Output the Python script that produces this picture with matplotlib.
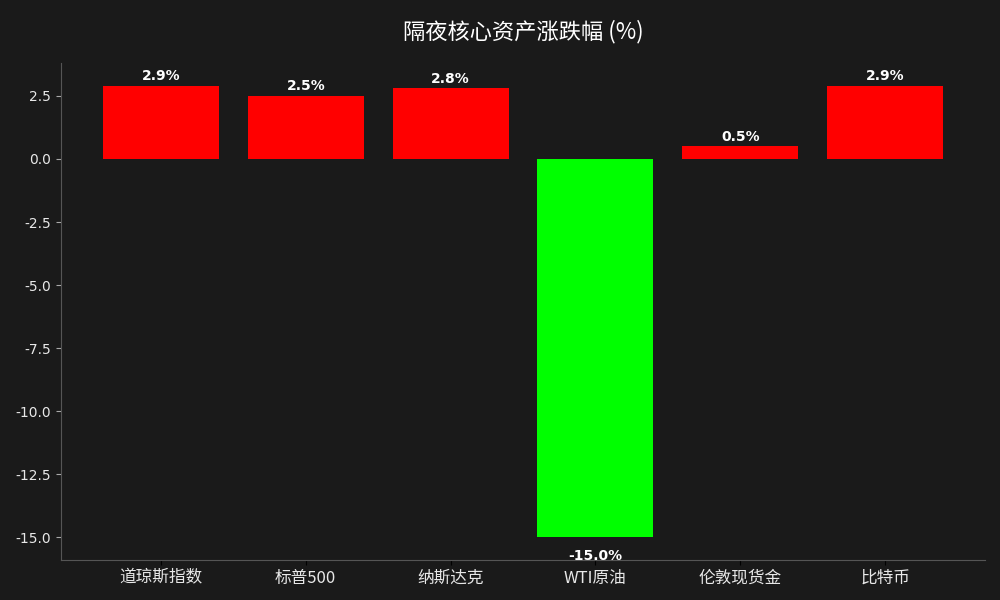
import numpy as np
import matplotlib.pyplot as plt

plt.rcParams['font.family'] = ['Noto Sans CJK SC', 'DejaVu Sans']

# overnight changes of core assets (%)
assets = ['道琼斯指数', '标普500', '纳斯达克', 'WTI原油', '伦敦现货金', '比特币']
changes = [2.9, 2.5, 2.8, -15.0, 0.5, 2.9]

bg = '#1a1a1a'
colors = ['#ff0000' if v >= 0 else '#00ff00' for v in changes]

fig = plt.figure(figsize=(10, 6), dpi=100, facecolor=bg)
ax = fig.add_axes([0.061, 0.0667, 0.924, 0.828], facecolor=bg)

x = np.arange(len(assets))
ax.bar(x, changes, width=0.8, color=colors)

for xi, v in zip(x, changes):
    if v >= 0:
        ax.text(xi, v + 0.1, f'{v:.1f}%', ha='center', va='bottom',
                color='white', fontsize=10, fontweight='bold', family='DejaVu Sans')
    else:
        ax.text(xi, v - 0.45, f'{v:.1f}%', ha='center', va='top',
                color='white', fontsize=10, fontweight='bold', family='DejaVu Sans')

ax.set_xticks(x)
ax.set_xticklabels(assets, fontsize=12, color='#e8e8e8')
ax.set_yticks([2.5, 0.0, -2.5, -5.0, -7.5, -10.0, -12.5, -15.0])
ax.set_yticklabels([f'{t:.1f}' for t in ax.get_yticks()], family='DejaVu Sans',
                   fontsize=10, color='#e8e8e8')
ax.tick_params(axis='x', colors='black', labelcolor='#e8e8e8')
ax.tick_params(axis='y', colors='#aaaaaa', labelcolor='#e8e8e8')

for s in ['top', 'right']:
    ax.spines[s].set_visible(False)
for s in ['left', 'bottom']:
    ax.spines[s].set_color('#555555')

ax.set_title('隔夜核心资产涨跌幅 (%)', color='white', fontsize=16, pad=18)

plt.savefig('out.png', facecolor=bg)
